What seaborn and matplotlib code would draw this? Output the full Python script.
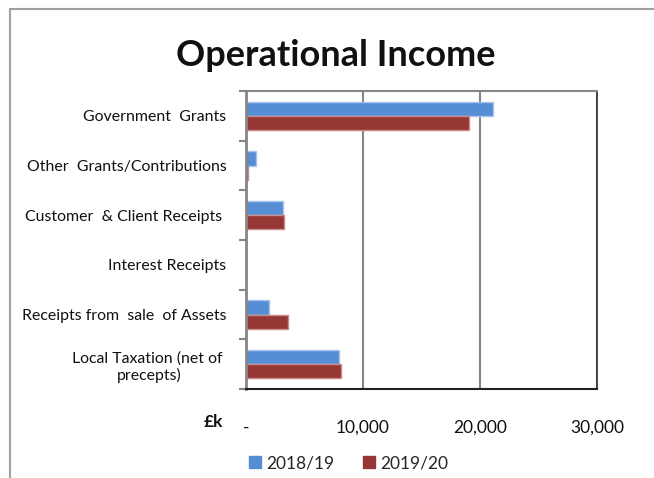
import matplotlib
matplotlib.use("Agg")
import matplotlib.pyplot as plt
from matplotlib.patches import Patch
from matplotlib.ticker import FixedLocator
import seaborn as sns
import pandas as pd

categories = [
    "Government  Grants",
    "Other  Grants/Contributions",
    "Customer  & Client Receipts ",
    "Interest Receipts",
    "Receipts from  sale  of Assets",
    "Local Taxation (net of \nprecepts)",
]
years = ["2018/19", "2019/20"]
values_2018 = [21160, 880, 3150, 20, 2010, 7970]
values_2019 = [19030, 170, 3290, 10, 3570, 8110]
x_ticks = [0, 10000, 20000, 30000]
x_tick_labels = ["-", "10,000", "20,000", "30,000"]
colors = ["#558ED5", "#953735"]
edge_colors = ["#A9C4EB", "#C98A89"]

df = pd.DataFrame({
    "Category": categories * 2,
    "Year": [years[0]] * len(categories) + [years[1]] * len(categories),
    "Value": values_2018 + values_2019,
})

sns.set_theme(style="white")
plt.rcParams["font.family"] = ["Lato", "DejaVu Sans"]

fig = plt.figure(figsize=(6.54, 4.78), dpi=100)
ax = fig.add_axes([0.3757, 0.1862, 0.5371, 0.6234])

sns.barplot(data=df, y="Category", x="Value", hue="Year", orient="h",
            palette=colors, width=0.57, ax=ax, legend=False,
            saturation=1, linewidth=1)
for container, ec in zip(ax.containers, edge_colors):
    for bar in container:
        bar.set_edgecolor(ec)

ax.set_xlim(0, 30000)
ax.set_ylim(len(categories) - 0.5, -0.5)
ax.set_xticks(x_ticks)
ax.set_xticklabels(x_tick_labels, fontsize=12.5, color="#111111")
ax.tick_params(axis="x", length=0, pad=22)
ax.set_xlabel("")
ax.set_ylabel("")
ax.tick_params(axis="y", length=0, pad=14, labelsize=11.4, labelcolor="#111111")
for lbl in ax.get_yticklabels():
    lbl.set_multialignment("center")
ax.yaxis.set_minor_locator(FixedLocator([i - 0.5 for i in range(len(categories) + 1)]))
ax.tick_params(axis="y", which="minor", length=5, width=1.5, color="#868686", left=True)

ax.grid(axis="x", color="#868686", linewidth=1.5)
ax.set_axisbelow(True)
ax.spines["left"].set_color("#868686")
ax.spines["left"].set_linewidth(2)
ax.spines["top"].set_color("#868686")
ax.spines["top"].set_linewidth(1.5)
ax.spines["right"].set_color("#3a3a3a")
ax.spines["right"].set_linewidth(1.3)
ax.spines["bottom"].set_color("#222222")
ax.spines["bottom"].set_linewidth(1.5)

fig.text(0.514, 0.884, "Operational Income", ha="center", va="center",
         fontsize=26, fontweight="bold", color="#111111")
fig.text(0.326, 0.118, "£k", ha="center", va="center",
         fontsize=12.5, fontweight="bold", color="#111111")

handles = [Patch(facecolor=c, edgecolor=c) for c in colors]
fig.legend(handles, years, loc="center", bbox_to_anchor=(0.533, 0.031),
           ncol=2, frameon=False, fontsize=12.5, handlelength=0.7,
           handleheight=0.7, handletextpad=0.3, columnspacing=1.6)

# outer chart frame
fig.add_artist(plt.Line2D([0.0153, 0.0153], [0.0, 0.981], color="#a0a0a0",
                          linewidth=1.5, transform=fig.transFigure))
fig.add_artist(plt.Line2D([0.0153, 1.0], [0.981, 0.981], color="#a0a0a0",
                          linewidth=1.5, transform=fig.transFigure))

fig.savefig("out.png", dpi=100)
